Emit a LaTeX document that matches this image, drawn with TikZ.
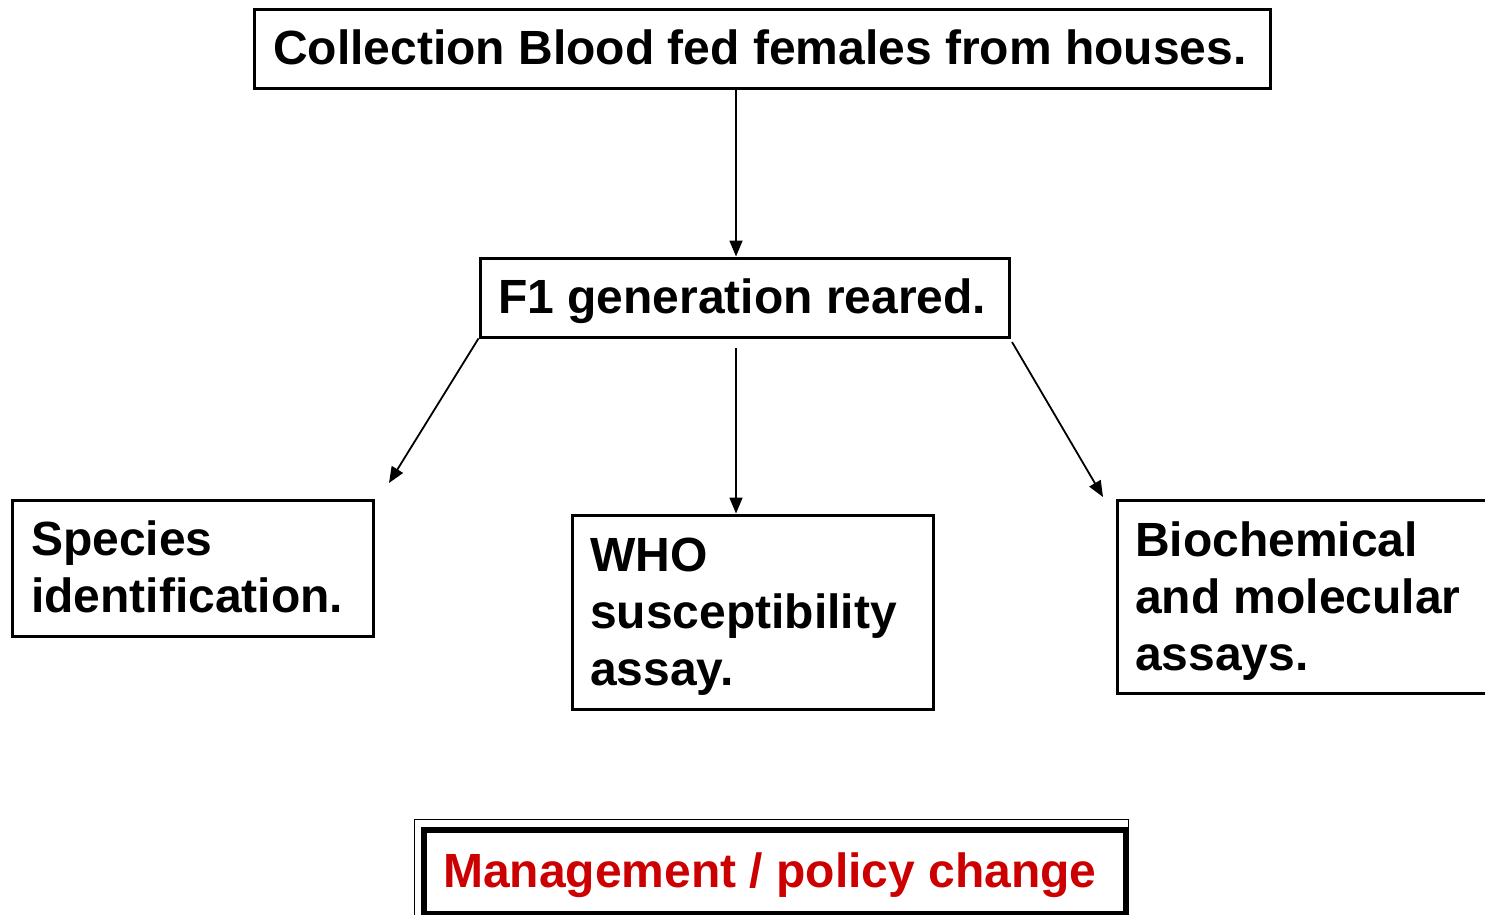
\documentclass[tikz,border=0pt]{standalone}
\usepackage{fontspec}
\setmainfont{Liberation Sans}
\usetikzlibrary{arrows.meta}
\definecolor{titlered}{RGB}{204,0,0}
\begin{document}
\begin{tikzpicture}[x=1pt,y=-1pt,
  box/.style={draw=black,line width=3pt,anchor=north west,inner sep=0pt},
  txt/.style={anchor=base west,inner sep=0pt,align=left,
    font=\bfseries\fontsize{48}{57}\selectfont},
  conn/.style={line width=1.8pt,-{Triangle[length=16pt,width=13pt]}}]
\useasboundingbox (0,0) rectangle (1485,915);
\clip (0,0) rectangle (1485,915);
\fill[white] (0,0) rectangle (1485,915);
% boxes
\node[box,minimum width=1016pt,minimum height=79pt] (top) at (252.5,8.5) {};
\node[box,minimum width=529pt,minimum height=79pt] (f1) at (478.5,256.5) {};
\node[box,minimum width=361pt,minimum height=136pt] (sp) at (10.5,498.5) {};
\node[box,minimum width=361pt,minimum height=194pt] (who) at (570.5,513.5) {};
\node[box,minimum width=400pt,minimum height=193pt] (bio) at (1115.5,498.5) {};
% texts
\node[txt] (topT) at (273,65) {Collection Blood fed females from houses.};
\node[txt] (f1T) at (498,313) {F1 generation reared.};
\node[txt] (spT1) at (31,555) {Species};
\node[txt] (spT2) at (31,612) {identification.};
\node[txt] (whoT1) at (590,571) {WHO};
\node[txt] (whoT2) at (590,628) {susceptibility};
\node[txt] (whoT3) at (590,685) {assay.};
\node[txt] (bioT1) at (1135,556) {Biochemical};
\node[txt] (bioT2) at (1135,613) {and molecular};
\node[txt] (bioT3) at (1135,670) {assays.};
% management box
\node[draw=black,line width=1.5pt,anchor=north west,inner sep=0pt,
  minimum width=714pt,minimum height=110pt] (mgO) at (413.75,818.75) {};
\node[draw=black,line width=6pt,anchor=north west,inner sep=0pt,
  minimum width=702pt,minimum height=84pt] (mg) at (421,827) {};
\node[anchor=base west,inner sep=0pt,text=titlered,
  font=\bfseries\fontsize{48}{57}\selectfont] (mgT) at (443,887) {Management / policy change};
% connectors
\coordinate (aSp) at (389,483);
\coordinate (aBioS) at (1012,342);
\coordinate (aBio) at (1103,497);
\draw[conn] (top.south -| 736,0) -- (f1.north -| 736,0);
\draw[conn] ([yshift=-9pt]f1.south -| 736,0) -- (who.north -| 736,0);
\draw[conn] (f1.south west) -- (aSp);
\draw[conn] (aBioS) -- (aBio);
\end{tikzpicture}
\end{document}
